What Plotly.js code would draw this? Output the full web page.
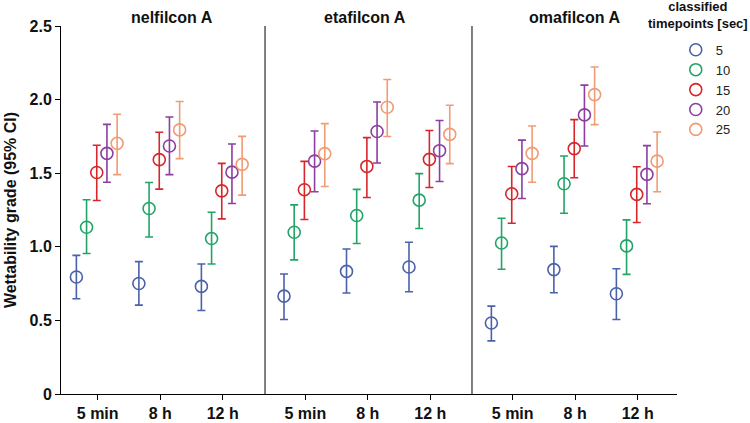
<!DOCTYPE html>
<html>
<head>
<meta charset="utf-8">
<script src="https://cdn.plot.ly/plotly-3.0.1.min.js"></script>
<style>html,body{margin:0;padding:0;background:#fff;}#chart{width:750px;height:423px;}</style>
</head>
<body>
<div id="chart"></div>
<script>
const categories = ['5 min', '8 h', '12 h'];
const panels = ['nelfilcon A', 'etafilcon A', 'omafilcon A'];
const seriesNames = ['5', '10', '15', '20', '25'];
const colors = ['#4b62a9', '#22a468', '#d7272b', '#8b3fa0', '#f09c74'];

// values per series: [panel1: 5min, 8h, 12h, panel2: ..., panel3: ...]
const mean5   = [0.795, 0.751, 0.731, 0.665, 0.833, 0.863, 0.482, 0.845, 0.681];
const upper5  = [0.942, 0.899, 0.883, 0.815, 0.985, 1.031, 0.597, 1.003, 0.851];
const lower5  = [0.647, 0.604, 0.567, 0.506, 0.686, 0.695, 0.361, 0.688, 0.506];
const mean10  = [1.133, 1.260, 1.056, 1.099, 1.213, 1.317, 1.026, 1.428, 1.006];
const upper10 = [1.320, 1.437, 1.235, 1.285, 1.390, 1.497, 1.194, 1.617, 1.183];
const lower10 = [0.954, 1.067, 0.883, 0.911, 1.022, 1.124, 0.847, 1.228, 0.813];
const mean15  = [1.505, 1.592, 1.380, 1.388, 1.546, 1.594, 1.360, 1.667, 1.356];
const upper15 = [1.690, 1.778, 1.567, 1.580, 1.742, 1.790, 1.546, 1.864, 1.544];
const lower15 = [1.315, 1.392, 1.190, 1.185, 1.335, 1.403, 1.160, 1.469, 1.165];
const mean20  = [1.635, 1.685, 1.507, 1.582, 1.783, 1.653, 1.531, 1.896, 1.492];
const upper20 = [1.832, 1.882, 1.698, 1.787, 1.984, 1.858, 1.725, 2.098, 1.687];
const lower20 = [1.439, 1.490, 1.294, 1.374, 1.569, 1.444, 1.328, 1.685, 1.292];
const mean25  = [1.703, 1.794, 1.560, 1.633, 1.948, 1.764, 1.635, 2.034, 1.582];
const upper25 = [1.900, 1.987, 1.750, 1.837, 2.137, 1.962, 1.821, 2.221, 1.780];
const lower25 = [1.490, 1.599, 1.351, 1.410, 1.749, 1.565, 1.439, 1.830, 1.374];

const means = [mean5, mean10, mean15, mean20, mean25];
const uppers = [upper5, upper10, upper15, upper20, upper25];
const lowers = [lower5, lower10, lower15, lower20, lower25];

const FONT = 'Liberation Sans, Arial, Helvetica, sans-serif';
const traces = [];
const axisIds = ['x', 'x2', 'x3'];
for (let p = 0; p < 3; p++) {
  for (let k = 0; k < 5; k++) {
    const x = [], y = [], ep = [], em = [];
    for (let c = 0; c < 3; c++) {
      const i = p * 3 + c;
      x.push(c + (k - 2) * 0.163 - 0.015);
      y.push(means[k][i]);
      ep.push(uppers[k][i] - means[k][i]);
      em.push(means[k][i] - lowers[k][i]);
    }
    traces.push({
      type: 'scatter', mode: 'markers', x: x, y: y,
      xaxis: axisIds[p], yaxis: 'y',
      name: seriesNames[k], legendgroup: seriesNames[k], showlegend: p === 0,
      marker: {symbol: 'circle-open', size: 12, color: colors[k], line: {width: 1.6, color: colors[k]}},
      error_y: {type: 'data', symmetric: false, array: ep, arrayminus: em, color: colors[k], thickness: 1.6, width: 4},
      cliponaxis: false
    });
  }
}

const xbase = {
  tickvals: [0, 1, 2], ticktext: categories, showline: true, linecolor: '#000', linewidth: 1,
  ticks: 'outside', ticklen: 5, tickcolor: '#000', showgrid: false, zeroline: false, anchor: 'y',
  tickfont: {family: FONT, size: 16, color: '#111', weight: 'bold'}, fixedrange: true
};
const layout = {
  width: 750, height: 423,
  margin: {l: 61, r: 73, t: 26, b: 29},
  paper_bgcolor: '#fff', plot_bgcolor: '#fff',
  font: {family: FONT, color: '#111'},
  xaxis: Object.assign({}, xbase, {domain: [0, 0.3312], range: [-0.587, 2.677]}),
  xaxis2: Object.assign({}, xbase, {domain: [0.3312, 0.6672], range: [-0.645, 2.667]}),
  xaxis3: Object.assign({}, xbase, {domain: [0.6672, 1], range: [-0.651, 2.629]}),
  yaxis: {
    range: [0, 2.5], tickvals: [0, 0.5, 1, 1.5, 2, 2.5], ticktext: ['0', '0.5', '1.0', '1.5', '2.0', '2.5'],
    showline: true, linecolor: '#000', linewidth: 1, ticks: 'outside', ticklen: 5, tickcolor: '#000',
    showgrid: false, zeroline: false, tickfont: {family: FONT, size: 16, color: '#111', weight: 'bold'},
    title: {text: 'Wettability grade (95% CI)', font: {family: FONT, size: 16, color: '#111', weight: 'bold'}, standoff: 8}
  },
  showlegend: true,
  legend: {
    x: 0.998, xanchor: 'left', y: 0.976, yanchor: 'top', bgcolor: 'rgba(0,0,0,0)',
    font: {family: FONT, size: 13, color: '#222'}, tracegroupgap: 0, itemclick: false
  },
  shapes: [
    {type: 'line', xref: 'x2 domain', yref: 'y', x0: 0, x1: 0, y0: 0, y1: 2.5, line: {color: '#000', width: 1}},
    {type: 'line', xref: 'x3 domain', yref: 'y', x0: 0, x1: 0, y0: 0, y1: 2.5, line: {color: '#000', width: 1}}
  ],
  annotations: [
    {text: panels[0], xref: 'paper', yref: 'paper', x: (171.5 - 61) / 616, y: 1, xanchor: 'center', yanchor: 'bottom', yshift: -2, showarrow: false, font: {family: FONT, size: 16, color: '#111', weight: 'bold'}},
    {text: panels[1], xref: 'paper', yref: 'paper', x: (364.7 - 61) / 616, y: 1, xanchor: 'center', yanchor: 'bottom', yshift: -2, showarrow: false, font: {family: FONT, size: 16, color: '#111', weight: 'bold'}},
    {text: panels[2], xref: 'paper', yref: 'paper', x: (574 - 61) / 616, y: 1, xanchor: 'center', yanchor: 'bottom', yshift: -2, showarrow: false, font: {family: FONT, size: 16, color: '#111', weight: 'bold'}},
    {text: 'classified<br>timepoints [sec]', xref: 'paper', yref: 'paper', x: (698 - 61) / 616, y: (394 - 15) / 368, xanchor: 'center', yanchor: 'middle', showarrow: false, align: 'center', font: {family: FONT, size: 13, color: '#111', weight: 'bold'}}
  ]
};
Plotly.newPlot('chart', traces, layout, {staticPlot: true, displayModeBar: false});
</script>
</body>
</html>
